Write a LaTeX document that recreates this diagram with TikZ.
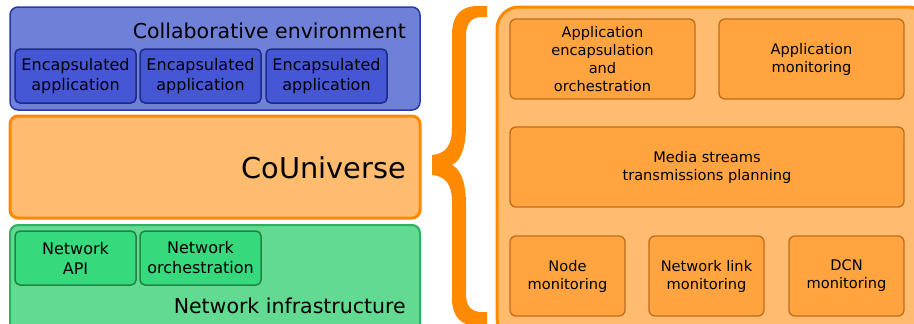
\documentclass[tikz,border=0pt]{standalone}
\usepackage{fontspec}
\setmainfont{DejaVu Sans}
\definecolor{envfill}{HTML}{6F80D8}
\definecolor{envline}{HTML}{2B38A6}
\definecolor{encfill}{HTML}{4657D6}
\definecolor{encline}{HTML}{1D2A86}
\definecolor{cufill}{HTML}{FFBB6E}
\definecolor{culine}{HTML}{FF8A00}
\definecolor{modfill}{HTML}{FFA43F}
\definecolor{modline}{HTML}{C06C1C}
\definecolor{netfill}{HTML}{63DA92}
\definecolor{netline}{HTML}{2DB060}
\definecolor{nodefill}{HTML}{36D97B}
\definecolor{nodeline}{HTML}{1E8446}
\tikzset{
	layer/.style={rounded corners=8pt, minimum width=410pt, inner sep=0pt},
	small/.style={rounded corners=5pt, minimum width=121pt, minimum height=54pt, inner sep=0pt, align=center, font=\fontsize{16}{20}\selectfont},
	module/.style={draw=modline, fill=modfill, line width=1.3pt, rounded corners=6pt, minimum height=80pt, inner sep=0pt, align=center, font=\fontsize{14.6}{18}\selectfont},
	title/.style={anchor=base east, inner sep=0pt, font=\fontsize{20.5}{24}\selectfont}
}

\begin{document}
\begin{tikzpicture}[x=1pt,y=-1pt]
			\clip (0,0) rectangle (914,324);

			\node[layer, draw=envline, fill=envfill, line width=1.5pt, minimum height=103pt] (collab) at (215,58.5) {};
			\node[title] (collabtext) at (406,38) {Collaborative environment};
			\foreach \i/\x in {1/75.5,2/200.5,3/326.5}{
				\node[small, draw=encline, fill=encfill, line width=1.5pt] (enc\i) at (\x,76) {Encapsulated\\application};
			}

			\node[layer, draw=culine, fill=cufill, line width=3pt, minimum height=102pt] (couniverse) at (215,167) {};
			\node[title, font=\fontsize{28.8}{32}\selectfont] (cutext) at (406,178) {CoUniverse};

			\node[layer, draw=netline, fill=netfill, line width=2pt, minimum height=110pt] (netinfra) at (215,280) {};
			\node[title] (nettext) at (406,313) {Network infrastructure};
			\node[small, draw=nodeline, fill=nodefill, line width=1.5pt] (netapi) at (75.5,258) {Network\\API};
			\node[small, draw=nodeline, fill=nodefill, line width=1.5pt] (netorch) at (200.5,258) {Network\\orchestration};

			\fill[culine] (487,6) -- (478,6) .. controls (462,6) and (452,14) .. (452,35) -- (452,128)
				.. controls (452,146) and (445,154) .. (432,155) -- (432,175)
				.. controls (445,176) and (452,184) .. (452,202) -- (452,298)
				.. controls (452,318) and (462,326) .. (478,326) -- (487,326) -- (487,312) -- (482,312)
				.. controls (471,312) and (466,306) .. (466,294) -- (466,205)
				.. controls (466,185) and (462,170) .. (452,165)
				.. controls (462,160) and (466,145) .. (466,125) -- (466,36)
				.. controls (466,24) and (471,17) .. (482,17) -- (487,17) -- cycle;

			\node[draw=culine, fill=cufill, line width=3pt, rounded corners=22pt, minimum width=433pt, minimum height=333pt, inner sep=0pt] (modules) at (713.5,173.5) {};
			\node[module, minimum width=185pt] (appenc) at (602.5,59) {Application\\encapsulation\\and\\orchestration};
			\node[module, minimum width=185pt] (appmon) at (811.5,59) {Application\\monitoring};
			\node[module, minimum width=394pt] (media) at (707,167) {Media streams\\transmissions planning};
			\foreach \n/\x/\t in {nodemon/567.5/Node, linkmon/706.5/Network link, dcnmon/846.5/DCN}{
				\node[module, minimum width=115pt] (\n) at (\x,276) {\t\\monitoring};
			}
\end{tikzpicture}
\end{document}
